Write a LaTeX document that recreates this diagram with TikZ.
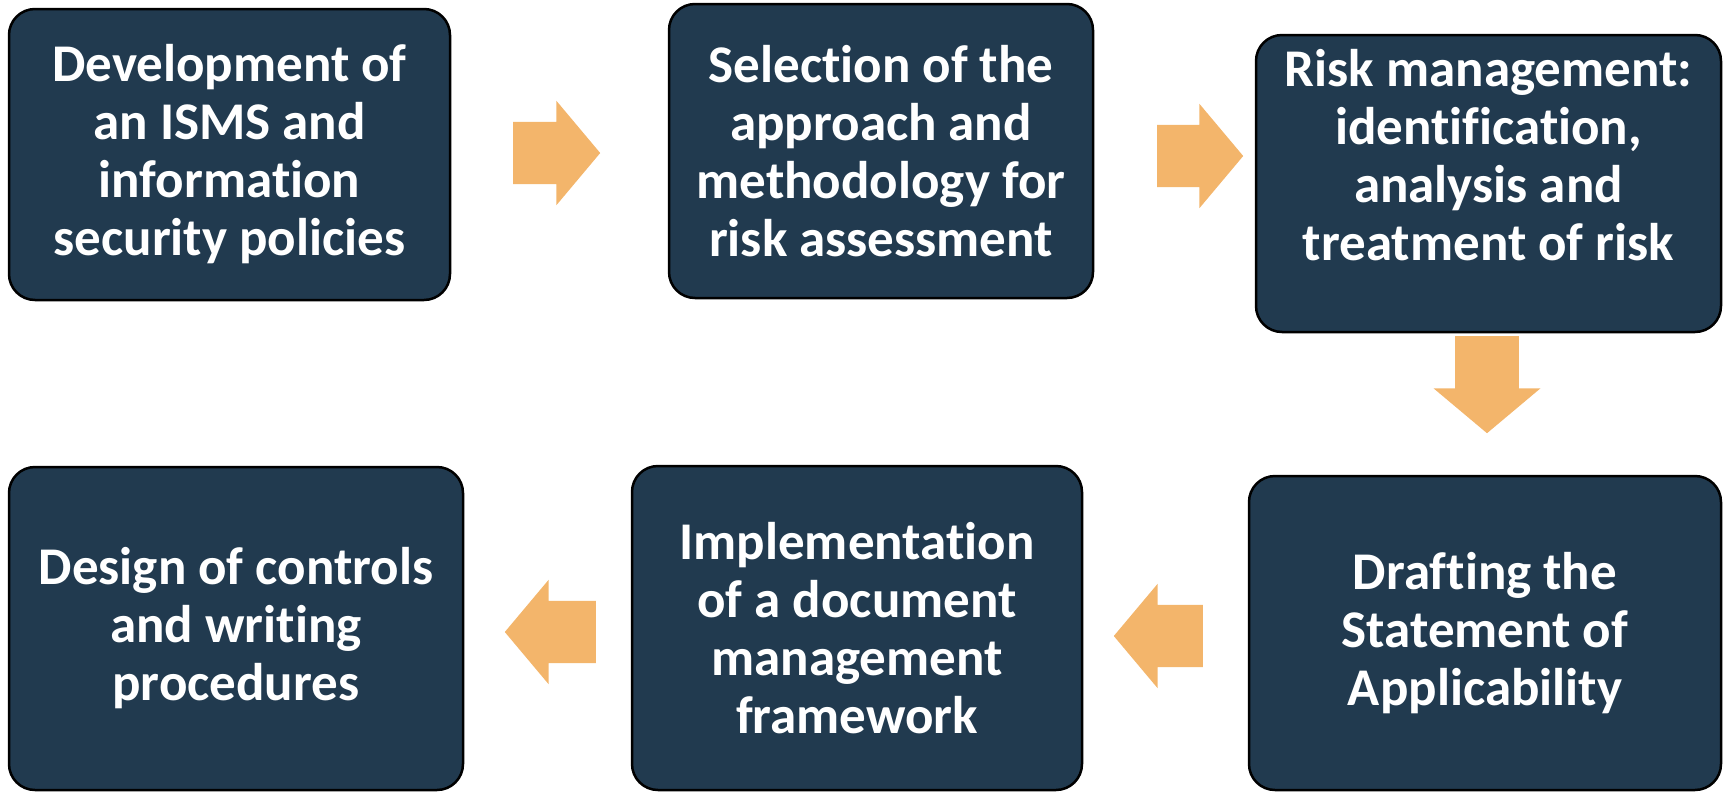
\documentclass[tikz,border=0pt]{standalone}
\usepackage{fontspec}
\setmainfont{Carlito}[Ligatures=NoCommon]
\usepackage{xcolor}
\usepackage{tikz}
\usetikzlibrary{shapes.arrows}
\definecolor{ismsNavy}{HTML}{213A4F}
\definecolor{ismsOrange}{HTML}{F3B56B}
\tikzset{
  stage/.style={draw=black, line width=2.5pt, rounded corners=26pt, fill=ismsNavy, text=white,
                align=center, inner sep=0pt, font=\bfseries\fontsize{53}{58}\selectfont},
  flow/.style ={single arrow, fill=ismsOrange, draw=none, inner sep=0pt, anchor=tail,
                text height=31pt, text depth=31pt, text width=0pt,
                minimum width=104pt, single arrow head extend=21pt, single arrow tip angle=100,
                single arrow head indent=0pt},
}

\begin{document}
\begin{tikzpicture}[x=1pt,y=-1pt]
\useasboundingbox (0,0) rectangle (1725,793);
% ---- top row ----
\node[stage, minimum width=441pt, minimum height=291pt] (dev)  at (229.5,154.5)
  {Development of\\an ISMS and\\information\\security policies};
\node[stage, minimum width=424pt, minimum height=294pt] (sel)  at (881,151)
  {Selection of the\\approach and\\methodology for\\risk assessment};
\node[stage, minimum width=465pt, minimum height=297pt] (risk) at (1488.5,183.5)
  {Risk management:\\identification,\\analysis and\\treatment of risk\\~};

% ---- bottom row ----
\node[stage, minimum width=472pt, minimum height=314pt] (soa)  at (1485,633)
  {Drafting the\\Statement of\\Applicability};
\node[stage, minimum width=450pt, minimum height=324pt] (impl) at (857,628)
  {Implementation\\of a document\\management\\framework};
\node[stage, minimum width=454pt, minimum height=323pt] (ctrl) at (236,628.5)
  {Design of controls\\and writing\\procedures};

% ---- block arrows ----
\node[flow, minimum height=87pt] (a1) at (513,153) {};
\node[flow, minimum height=86pt] (a2) at (1157,156) {};
\node[flow, minimum height=97pt, minimum width=107pt, rotate=-90] (a3) at (1487,336) {};
\node[flow, minimum height=89pt, shape border rotate=180] (a4) at (1203,636) {};
\node[flow, minimum height=91pt, shape border rotate=180] (a5) at (596,632) {};
\end{tikzpicture}
\end{document}
